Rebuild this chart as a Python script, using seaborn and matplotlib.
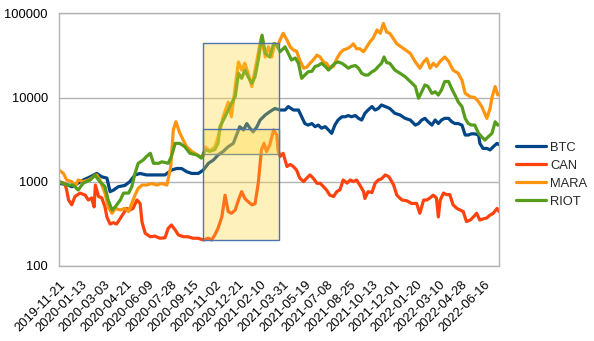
import matplotlib
matplotlib.use("Agg")
import matplotlib.pyplot as plt
import matplotlib.ticker as mticker
from matplotlib.patches import Rectangle
import seaborn as sns
import pandas as pd

# ---- data (x = trading-day index from 2019-11-21) ----
tick_labels = ["2019-11-21", "2020-01-13", "2020-03-03", "2020-04-21", "2020-06-09",
               "2020-07-28", "2020-09-15", "2020-11-02", "2020-12-21", "2021-02-10",
               "2021-03-31", "2021-05-19", "2021-07-08", "2021-08-25", "2021-10-13",
               "2021-12-01", "2022-01-20", "2022-03-10", "2022-04-28", "2022-06-16"]
tick_step = 35
n_days = 690

btc_x = [0, 12, 20, 28, 38, 49, 59, 67, 75, 80, 85, 93, 103, 111, 119, 127, 137, 148, 158, 166,
         176, 184, 192, 200, 208, 218, 226, 234, 242, 249, 257, 265, 273, 278, 283, 289, 294, 299,
         304, 310, 315, 323, 330, 338, 346, 354, 359, 367, 375, 380, 385, 390, 396, 401, 406, 411,
         417, 422, 427, 432, 437, 443, 448, 453, 458, 464, 469, 474, 479, 484, 490, 495, 500, 505,
         511, 518, 526, 534, 542, 550, 558, 563, 568, 573, 578, 584, 589, 594, 599, 604, 610, 615,
         620, 625, 631, 636, 641, 646, 651, 657, 659, 664, 670, 675, 680, 686, 689]
btc_y = [955, 920, 870, 940, 1045, 1140, 1250, 1140, 1100, 760, 790, 870, 900, 1000, 1200, 1250,
         1200, 1200, 1200, 1200, 1370, 1430, 1430, 1310, 1250, 1250, 1370, 1650, 1810, 2070, 2280,
         2600, 2850, 3580, 4500, 4110, 4900, 4320, 3900, 4500, 5400, 6200, 6780, 7400, 7100, 7100,
         7800, 7100, 7100, 5900, 4900, 4700, 4900, 4500, 4700, 4320, 4500, 4110, 3750, 4700, 5400,
         5900, 5900, 6100, 5900, 6100, 5650, 5400, 6480, 7100, 7800, 7100, 7400, 8150, 7800, 7400,
         6480, 6200, 5650, 5400, 4700, 4900, 5400, 5650, 5150, 4700, 5400, 4900, 5400, 5650, 5650,
         5150, 4900, 4900, 4700, 3580, 3580, 3700, 3700, 3580, 2850, 2480, 2480, 2380, 2600, 2850,
         2750]

can_x = [0, 9, 12, 15, 20, 25, 33, 41, 46, 51, 55, 57, 62, 67, 72, 75, 80, 85, 90, 96, 101, 106,
         111, 116, 122, 127, 130, 135, 143, 150, 158, 166, 171, 176, 182, 187, 195, 202, 210, 218,
         226, 234, 239, 244, 249, 255, 260, 265, 270, 276, 281, 286, 291, 296, 302, 307, 312, 317,
         321, 325, 330, 336, 341, 343, 346, 351, 357, 362, 367, 372, 377, 383, 388, 393, 398, 404,
         409, 414, 419, 424, 430, 435, 440, 445, 451, 456, 461, 466, 471, 477, 479, 484, 490, 495,
         500, 505, 511, 516, 518, 524, 529, 537, 545, 552, 560, 565, 571, 576, 581, 586, 591, 594,
         597, 602, 607, 612, 617, 623, 628, 633, 638, 644, 649, 654, 659, 664, 670, 675, 680, 686,
         689]
can_y = [1000, 950, 795, 604, 530, 665, 730, 690, 604, 640, 500, 910, 665, 640, 500, 380, 313, 325,
         313, 365, 420, 480, 460, 480, 604, 550, 330, 243, 221, 225, 212, 215, 278, 305, 266, 232,
         221, 221, 212, 212, 202, 212, 202, 232, 278, 380, 690, 440, 420, 459, 604, 760, 630, 580,
         530, 545, 955, 2380, 2850, 2280, 2730, 4110, 3580, 2380, 1990, 2170, 1510, 1600, 1510, 1370,
         1100, 1000, 1100, 1200, 1100, 955, 955, 870, 795, 690, 665, 760, 800, 1045, 960, 1045, 1000,
         1045, 910, 760, 630, 760, 740, 955, 1045, 1080, 1200, 1150, 1100, 910, 690, 604, 590, 550,
         550, 420, 604, 604, 640, 690, 640, 380, 604, 730, 700, 700, 530, 480, 459, 440, 335, 349,
         380, 420, 349, 360, 370, 400, 420, 480, 440]

mara_x = [0, 7, 12, 20, 25, 30, 38, 46, 54, 59, 64, 72, 77, 83, 88, 96, 103, 109, 114, 119, 124,
          130, 137, 145, 153, 161, 169, 175, 179, 183, 189, 197, 200, 208, 221, 226, 229, 236, 244,
          252, 257, 265, 270, 276, 281, 286, 291, 296, 302, 307, 312, 317, 323, 328, 333, 338, 342,
          346, 351, 357, 362, 367, 372, 377, 383, 388, 393, 398, 404, 409, 414, 419, 424, 430, 435,
          440, 445, 451, 456, 461, 466, 471, 477, 482, 487, 492, 498, 503, 508, 513, 518, 529, 540,
          550, 558, 565, 571, 576, 581, 586, 591, 597, 604, 610, 617, 625, 631, 636, 644, 651, 657,
          662, 670, 675, 678, 683, 687, 689]
mara_y = [1370, 1250, 1045, 1000, 870, 1045, 1000, 1045, 1140, 1200, 1045, 730, 500, 420, 480, 460,
          480, 440, 550, 690, 830, 910, 910, 950, 910, 950, 910, 1510, 4110, 5150, 3800, 2850, 2600,
          2280, 1990, 2000, 2580, 2300, 2580, 4000, 5900, 8800, 5900, 13500, 26500, 21200, 25600,
          19500, 13500, 21200, 34000, 52600, 30300, 40000, 30300, 44000, 40000, 48300, 58000, 48300,
          40000, 36700, 35500, 27900, 22300, 23000, 25500, 27900, 31900, 30300, 26500, 25500, 22300,
          23500, 29000, 33500, 36700, 38000, 40000, 43500, 38000, 38000, 35000, 40000, 46000, 51000,
          63500, 58000, 76000, 60000, 58000, 43500, 38000, 33500, 26500, 22300, 26500, 29000, 22300,
          25500, 23400, 27000, 30300, 27000, 21200, 19400, 16100, 11200, 10200, 10000, 8900, 7800,
          5650, 7400, 10000, 13500, 10700, 11000]

riot_x = [0, 12, 22, 30, 38, 49, 56, 64, 72, 77, 83, 88, 96, 101, 109, 114, 119, 124, 132, 137,
          143, 148, 156, 161, 171, 176, 182, 189, 197, 205, 216, 223, 229, 236, 244, 249, 252, 260,
          265, 270, 276, 281, 286, 291, 296, 302, 307, 312, 318, 323, 330, 336, 341, 346, 349, 354,
          359, 364, 370, 375, 380, 385, 390, 396, 401, 406, 411, 417, 422, 427, 432, 437, 443, 448,
          453, 458, 464, 469, 474, 479, 484, 490, 495, 500, 505, 509, 513, 518, 526, 534, 542, 550,
          558, 563, 568, 573, 578, 584, 589, 594, 599, 604, 610, 615, 620, 625, 631, 636, 641, 646,
          651, 657, 662, 667, 672, 678, 683, 687, 689]
riot_y = [1000, 910, 910, 795, 960, 1045, 1200, 1000, 870, 604, 459, 500, 604, 730, 730, 870, 1250,
          1650, 1810, 1990, 2170, 1650, 1650, 1720, 1650, 1990, 2850, 2850, 2600, 2170, 2070, 1900,
          2400, 2300, 2400, 2850, 4500, 5900, 7100, 8500, 10300, 19400, 16900, 21200, 17700, 14700,
          17700, 27900, 55000, 33500, 30300, 43500, 42000, 35000, 36700, 40000, 33500, 27900, 29500,
          25500, 16900, 18500, 20200, 20500, 23400, 24000, 25500, 23400, 21200, 23400, 25500, 26500,
          25500, 24000, 22300, 23400, 24000, 22300, 19400, 18500, 18500, 20200, 21200, 23400, 25500,
          30300, 26000, 25500, 21200, 19400, 17700, 15500, 13500, 9800, 11700, 14100, 13500, 11200,
          11700, 10700, 12300, 15500, 15500, 12700, 10700, 8900, 7800, 5650, 4900, 4700, 4700, 3750,
          3400, 3120, 3400, 3750, 5150, 4700, 4700]

series_names = ["BTC", "CAN", "MARA", "RIOT"]
series_colors = ["#004586", "#ff420e", "#ff950e", "#579d1c"]

# highlight boxes: (x_start, x_end, y_low, y_high)
box_x = [226, 345]
box_upper = [2130, 45000]
box_lower = [200, 4200]

# ---- build long table ----
frames = []
for name, xs, ys in zip(series_names, [btc_x, can_x, mara_x, riot_x],
                        [btc_y, can_y, mara_y, riot_y]):
    frames.append(pd.DataFrame({"day": xs, "value": ys, "series": name}))
df = pd.concat(frames, ignore_index=True)

sns.set_theme(style="white")
plt.rcParams["font.family"] = ["Liberation Sans", "DejaVu Sans"]

fig = plt.figure(figsize=(5.94, 3.41), dpi=100)
ax = fig.add_axes([59 / 594, 1 - 265.7 / 341, 440 / 594, 252.3 / 341])

sns.lineplot(data=df, x="day", y="value", hue="series", hue_order=series_names,
             palette=dict(zip(series_names, series_colors)), estimator=None, sort=True,
             linewidth=2.3, ax=ax, legend=True)

ax.set_yscale("log")
ax.set_ylim(100, 100000)
ax.set_xlim(0, n_days - 1)
ax.yaxis.set_major_locator(mticker.FixedLocator([100, 1000, 10000, 100000]))
ax.yaxis.set_major_formatter(mticker.FuncFormatter(lambda v, p: f"{int(round(v))}"))
ax.yaxis.set_minor_locator(mticker.NullLocator())
ax.grid(axis="y", color="#b3b3b3", linewidth=1)
ax.grid(axis="x", visible=False)

ticks = [i * tick_step for i in range(len(tick_labels))]
ax.xaxis.set_major_locator(mticker.FixedLocator(ticks))
ax.set_xticklabels(tick_labels, rotation=45, ha="right", rotation_mode="anchor")
ax.xaxis.set_minor_locator(mticker.FixedLocator(list(range(n_days))))
ax.tick_params(axis="x", which="both", direction="out", length=4.5, width=0.7,
               color="#b0b0b0", labelsize=9.3, pad=5)
ax.tick_params(axis="y", which="major", direction="out", length=5, width=1,
               color="#b3b3b3", labelsize=9.3, pad=3)
for lab in ax.get_xticklabels() + ax.get_yticklabels():
    lab.set_color("black")
ax.set_xlabel("")
ax.set_ylabel("")
for sp in ax.spines.values():
    sp.set_color("#b3b3b3")
    sp.set_linewidth(1)
    sp.set_visible(True)

# highlight rectangles drawn over the lines
for lo, hi in [box_upper, box_lower]:
    ax.add_patch(Rectangle((box_x[0], lo), box_x[1] - box_x[0], hi - lo,
                           facecolor=(1.0, 0.84, 0.2, 0.33), edgecolor="#4f74ad",
                           linewidth=1.0, zorder=5))

leg = ax.legend(loc="center left", bbox_to_anchor=(516 / 594, 1 - 174.7 / 341),
                bbox_transform=fig.transFigure, frameon=False, fontsize=9.3,
                handlelength=2.35, handletextpad=0.3, labelspacing=0.45,
                borderpad=0, borderaxespad=0)
for line in leg.get_lines():
    line.set_linewidth(2.3)

fig.savefig("out.png", dpi=100)
